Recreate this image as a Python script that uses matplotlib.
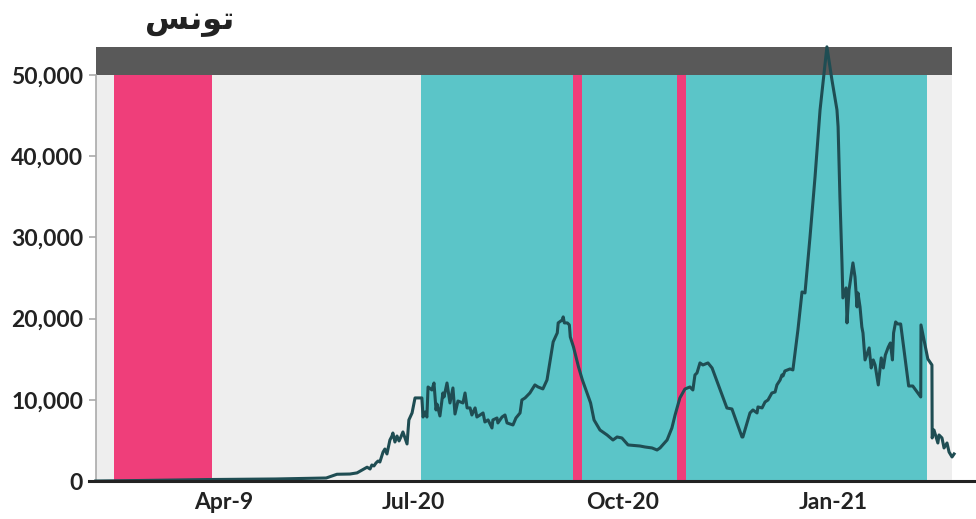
import matplotlib
matplotlib.use("Agg")
import matplotlib.pyplot as plt
import matplotlib.dates as mdates
import pandas as pd
from matplotlib.ticker import FuncFormatter

plt.rcParams["font.family"] = ["Lato", "DejaVu Sans"]
plt.rcParams["font.weight"] = "bold"

# Arabic title, pre-shaped (presentation forms, visual order) since matplotlib does not shape
title = "\uFEB2\uFEE7\uFEEE\uFE97"  # تونس

base_date = pd.Timestamp("2020-07-01")

# days after 2020-07-01 and the value at that point
days = [-139, -120, -90, -60, -38, -33.3, -27.6, -24.5, -22.3, -20.1, -18.8, -18.0,
        -17.1, -16.2, -15.3, -14.5, -13.1, -12.3, -11.4, -10.1, -9.2, -8.8, -7.9,
        -7.0, -6.1, -5.3, -4.4, -3.5, -2.6, -1.8, -0.4, 0.9, 3.9, 4.4, 5.3, 6.1,
        6.6, 8.3, 9.2, 10.1, 10.5, 11.8, 13.1, 13.6, 14.9, 16.2, 17.5, 18.4, 19.7,
        21.9, 22.8, 23.7, 25.0, 25.8, 27.2, 28.0, 29.4, 30.7, 31.5, 32.9, 34.6,
        35.0, 36.8, 37.2, 39.0, 40.3, 41.2, 42.5, 43.8, 45.1, 46.9, 47.7, 49.1,
        51.2, 53.4, 54.8, 56.9, 58.7, 60.1, 61.4, 63.2, 63.6, 65.4, 65.8, 66.3,
        67.6, 68.5, 68.9, 70.3, 72.5, 74.2, 77.8, 79.3, 81.9, 85.0, 87.6, 89.4,
        91.5, 94.2, 99.4, 101.6, 104.7, 106.9, 108.2, 111.3, 113.4, 114.8, 116.9,
        119.1, 121.3, 122.6, 123.5, 124.4, 125.7, 127.0, 129.2, 131.0, 137.5,
        139.7, 144.1, 144.5, 145.4, 147.6, 148.9, 150.7, 151.1, 152.9, 154.2,
        155.5, 157.2, 158.6, 159.4, 160.8, 161.6, 162.1, 162.9, 165.1, 166.4,
        168.6, 170.4, 171.7, 173.9, 176.1, 178.3, 181.3, 183.5, 185.7, 186.2,
        187.0, 187.9, 188.3, 189.7, 190.1, 191.0, 192.7, 193.6, 194.5, 194.9,
        195.8, 196.6, 197.1, 198.0, 199.8, 200.7, 201.6, 202.4, 203.8, 205.1,
        206.0, 206.9, 208.2, 209.1, 210.0, 210.5, 211.4, 212.3, 213.6, 217.1,
        218.9, 222.4, 222.5, 225.5, 227.3, 227.4, 228.2, 229.9, 230.4, 231.7,
        232.6, 233.9, 234.8, 236.1, 237.0]
cases = [0, 60, 180, 250, 370, 830, 860, 1000, 1350, 1700, 1480, 1970,
         1850, 2220, 2460, 2340, 3570, 3940, 3330, 5050, 5540, 5910, 4800,
         5540, 4930, 5420, 6040, 5300, 4560, 7520, 8380, 10230, 10230, 7880, 8500, 7880,
         11580, 11210, 12070, 8750, 9480, 8010, 10840, 10350, 12070, 9610, 11460, 8250, 9850,
         9610, 10840, 9000, 9000, 8130, 9000, 7880, 8130, 8380, 7270, 7520, 6530,
         7520, 7760, 7150, 7880, 8130, 7150, 7020, 6900, 7760, 8380, 9980, 10230,
         10840, 11830, 11580, 11340, 12440, 14910, 17130, 18240, 19470, 19840, 20210, 19470,
         19470, 19220, 17740, 16510, 14050, 12440, 9610, 7520, 6280, 5670, 5050, 5420,
         5300, 4440, 4310, 4190, 4070, 3820, 4070, 5050, 6530, 8130, 10230,
         11330, 11580, 11210, 13060, 13310, 14540, 14290, 14540, 13920, 8990,
         8870, 5420, 5420, 6280, 8380, 8750, 8380, 9120, 9000, 9730,
         9980, 10840, 10960, 11830, 12440, 13060, 12940, 13550, 13800, 13680,
         18600, 23280, 23160, 30060, 37450, 45710, 53470, 49400, 45710, 43610,
         34990, 26860, 22550, 23780, 19470, 23530, 26860, 25130, 21440, 23160,
         21440, 18970, 18230, 14910, 16390, 13920, 14910, 14290, 11830, 15160,
         13920, 15520, 16510, 17000, 14910, 18230, 19590, 19340, 19340, 11700,
         11700, 10350, 19220, 15030, 14290, 5300, 6280, 4680, 5670, 5300,
         4070, 4680, 3570, 2960, 3330]

# restriction periods (start, end, colour key)
periods = [("2020-02-21", "2020-04-04", "pink"),
           ("2020-07-04 12:00", "2020-09-09", "teal"),
           ("2020-09-09", "2020-09-13", "pink"),
           ("2020-09-13", "2020-10-24 12:00", "teal"),
           ("2020-10-24 12:00", "2020-10-28 12:00", "pink"),
           ("2020-10-28 12:00", "2021-02-11", "teal")]
range_start, range_end = "2020-02-13", "2021-02-22"

tick_dates = ["2020-04-09", "2020-07-01", "2020-10-01", "2021-01-01"]
tick_labels = ["Apr-9", "Jul-20", "Oct-20", "Jan-21"]
y_ticks = [0, 10000, 20000, 30000, 40000, 50000]

colors = {"pink": "#ef3e7a", "teal": "#5bc5c8"}

dates = [base_date + pd.Timedelta(days=d) for d in days]

fig = plt.figure(figsize=(9.76, 5.19), dpi=100)
ax = fig.add_axes([89 / 976, 38 / 519, 887 / 976, 434 / 519])

x0 = mdates.date2num(pd.Timestamp(range_start))
x1 = mdates.date2num(pd.Timestamp(range_end))
ax.fill_between([x0, x1], 0, 50000, color="#eeeeee", lw=0, zorder=0)
ax.fill_between([x0, x1], 50000, 53450, color="#595959", lw=0, zorder=0)
for s, e, c in periods:
    ax.fill_between([mdates.date2num(pd.Timestamp(s)), mdates.date2num(pd.Timestamp(e))],
                    0, 50000, color=colors[c], lw=0, zorder=1)

ax.plot(mdates.date2num(dates), cases, color="#1f4d53", lw=2.2, zorder=3,
        solid_joinstyle="round", clip_on=False)

ax.set_xlim(mdates.date2num(base_date + pd.Timedelta(days=-141.9)),
            mdates.date2num(base_date + pd.Timedelta(days=246.6)))
ax.set_ylim(0, 53450)

ax.set_xticks([mdates.date2num(pd.Timestamp(d)) for d in tick_dates])
ax.set_xticklabels(tick_labels)
ax.set_yticks(y_ticks)
ax.yaxis.set_major_formatter(FuncFormatter(lambda v, p: f"{int(v):,}"))

for sp in ["top", "right"]:
    ax.spines[sp].set_visible(False)
ax.spines["left"].set_position(("data", x0))
ax.spines["left"].set_bounds(0, 50000)
ax.spines["left"].set_color("#aaaaaa")
ax.spines["left"].set_linewidth(1.2)
ax.spines["bottom"].set_color("#222222")
ax.spines["bottom"].set_linewidth(2.2)
ax.spines["bottom"].set_zorder(4)

ax.tick_params(axis="y", length=5, width=1.2, color="#aaaaaa", pad=4,
               labelsize=16.5, labelcolor="#222222")
ax.tick_params(axis="x", length=0, pad=8, labelsize=16.5, labelcolor="#222222")
for lab in ax.get_xticklabels() + ax.get_yticklabels():
    lab.set_fontweight("bold")

fig.text(234 / 976, 1 - 22 / 519, title, family=["DejaVu Sans"], weight="bold",
         fontsize=23, color="#222222", ha="right", va="center")

fig.savefig("out.png", dpi=100)
